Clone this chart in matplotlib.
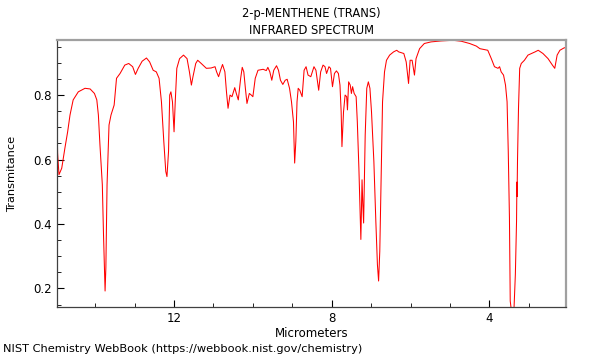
import matplotlib

matplotlib.use("Agg")
import matplotlib.pyplot as plt  # noqa: E402
from matplotlib.ticker import MultipleLocator  # noqa: E402

# 2-p-menthene (trans) IR spectrum
MICROMETERS = [
    14.97, 14.955, 14.92, 14.85, 14.77, 14.70, 14.64, 14.56, 14.43, 14.26,
    14.13, 14.02, 13.96, 13.92, 13.88, 13.82, 13.79, 13.75, 13.73, 13.70,
    13.65, 13.60, 13.52, 13.46, 13.37, 13.25, 13.15, 13.05, 12.98, 12.91,
    12.81, 12.70, 12.62, 12.53, 12.45, 12.38, 12.32, 12.26, 12.21, 12.18,
    12.14, 12.11, 12.08, 12.04, 12.00, 11.97, 11.93, 11.86, 11.76, 11.67,
    11.61, 11.56, 11.52, 11.45, 11.40, 11.31, 11.18, 11.06, 10.96, 10.92,
    10.87, 10.82, 10.77, 10.71, 10.67, 10.63, 10.58, 10.53, 10.46, 10.42,
    10.37, 10.31, 10.27, 10.23, 10.19, 10.15, 10.09, 10.04, 10.00, 9.94,
    9.87, 9.74, 9.66, 9.62, 9.57, 9.52, 9.47, 9.40, 9.35, 9.30,
    9.24, 9.18, 9.13, 9.07, 9.02, 8.97, 8.94, 8.91, 8.88, 8.85,
    8.81, 8.75, 8.70, 8.65, 8.60, 8.53, 8.48, 8.45, 8.40, 8.33,
    8.28, 8.22, 8.17, 8.13, 8.07, 8.03, 7.98, 7.93, 7.88, 7.83,
    7.79, 7.76, 7.74, 7.70, 7.66, 7.62, 7.60, 7.57, 7.53, 7.50,
    7.47, 7.43, 7.38, 7.35, 7.31, 7.26, 7.23, 7.21, 7.19, 7.15,
    7.11, 7.07, 7.03, 6.99, 6.93, 6.88, 6.84, 6.81, 6.78, 6.74,
    6.71, 6.66, 6.61, 6.53, 6.43, 6.35, 6.30, 6.17, 6.11, 6.05,
    6.01, 5.96, 5.90, 5.86, 5.77, 5.65, 5.48, 5.22, 4.92, 4.71,
    4.50, 4.33, 4.24, 4.04, 3.95, 3.87, 3.78, 3.74, 3.70, 3.64,
    3.59, 3.55, 3.52, 3.49, 3.47, 3.43, 3.38, 3.34, 3.31, 3.30,
    3.297, 3.285, 3.26, 3.23, 3.19, 3.11, 3.02, 2.93, 2.84, 2.76,
    2.64, 2.51, 2.40, 2.34, 2.28, 2.21, 2.11, 2.06,
]
TRANSMITANCE = [
    0.720, 0.620, 0.553, 0.573, 0.635, 0.686, 0.738, 0.785, 0.810, 0.821,
    0.819, 0.805, 0.785, 0.738, 0.645, 0.522, 0.367, 0.192, 0.265, 0.522,
    0.707, 0.738, 0.769, 0.852, 0.867, 0.893, 0.898, 0.888, 0.864, 0.883,
    0.905, 0.915, 0.903, 0.877, 0.872, 0.852, 0.779, 0.656, 0.563, 0.547,
    0.625, 0.800, 0.810, 0.779, 0.686, 0.779, 0.883, 0.913, 0.924, 0.913,
    0.872, 0.831, 0.857, 0.898, 0.908, 0.898, 0.883, 0.884, 0.888, 0.872,
    0.857, 0.877, 0.895, 0.872, 0.810, 0.759, 0.800, 0.795, 0.823, 0.805,
    0.785, 0.852, 0.886, 0.872, 0.821, 0.774, 0.805, 0.800, 0.795, 0.852,
    0.877, 0.880, 0.876, 0.886, 0.872, 0.846, 0.877, 0.891, 0.877, 0.846,
    0.833, 0.846, 0.849, 0.821, 0.779, 0.717, 0.589, 0.656, 0.779, 0.821,
    0.815, 0.795, 0.877, 0.888, 0.862, 0.857, 0.877, 0.888, 0.877, 0.815,
    0.872, 0.893, 0.888, 0.867, 0.888, 0.883, 0.826, 0.867, 0.875, 0.867,
    0.831, 0.748, 0.640, 0.748, 0.800, 0.795, 0.754, 0.841, 0.831, 0.805,
    0.826, 0.805, 0.795, 0.717, 0.573, 0.352, 0.537, 0.460, 0.403, 0.676,
    0.821, 0.841, 0.821, 0.748, 0.594, 0.408, 0.274, 0.223, 0.315, 0.573,
    0.779, 0.872, 0.908, 0.924, 0.934, 0.939, 0.934, 0.929, 0.903, 0.836,
    0.908, 0.908, 0.862, 0.913, 0.944, 0.960, 0.965, 0.968, 0.970, 0.967,
    0.960, 0.952, 0.944, 0.939, 0.913, 0.888, 0.883, 0.888, 0.872, 0.862,
    0.831, 0.779, 0.625, 0.419, 0.161, 0.120, 0.120, 0.243, 0.408, 0.530,
    0.485, 0.600, 0.760, 0.883, 0.898, 0.908, 0.924, 0.929, 0.934, 0.939,
    0.929, 0.913, 0.893, 0.883, 0.924, 0.939, 0.946, 0.948,
]

fig = plt.figure(figsize=(6, 3.6), dpi=100)
ax = fig.add_axes([0.095, 0.146, 0.848, 0.743])
ax.plot(MICROMETERS, TRANSMITANCE, color="red", lw=0.75)

ax.set_xlim(14.97, 2.06)
ax.set_ylim(0.141, 0.971)
ax.xaxis.set_major_locator(MultipleLocator(4))
ax.xaxis.set_minor_locator(MultipleLocator(1))
ax.yaxis.set_major_locator(MultipleLocator(0.2))
ax.yaxis.set_minor_locator(MultipleLocator(0.05))
ax.tick_params(which="both", direction="in", labelsize=8.5, top=False, right=False)
ax.tick_params(which="major", length=5)
ax.tick_params(which="minor", length=3)

for side in ("top", "right"):
    ax.spines[side].set_color("#a0a0a0")
    ax.spines[side].set_linewidth(1.6)
for side in ("left", "bottom"):
    ax.spines[side].set_color("#404040")
    ax.spines[side].set_linewidth(0.9)

ax.set_xlabel("Micrometers", fontsize=8.5, labelpad=1)
ax.set_ylabel("Transmitance", fontsize=8.2, labelpad=12)
ax.set_title("2-p-MENTHENE (TRANS)\nINFRARED SPECTRUM", fontsize=8.3, pad=4,
             linespacing=1.45)
fig.text(0.005, 0.022, "NIST Chemistry WebBook (https://webbook.nist.gov/chemistry)",
         fontsize=8.2)

fig.savefig("out.png", dpi=100)
